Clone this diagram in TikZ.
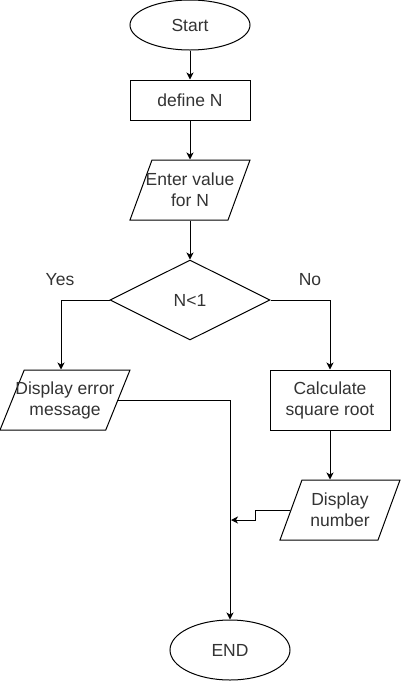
\documentclass[tikz,border=0pt]{standalone}
\usepackage{fontspec}
\setmainfont{Liberation Sans}
\usepackage{tikz}
\usetikzlibrary{arrows.meta, positioning, shapes.geometric}

\newcommand{\oneline}[1]{\makebox[0pt]{#1}}

\begin{document}
\begin{tikzpicture}[x=1pt, y=-1pt, >={Stealth[length=7pt, width=7pt, inset=2pt]}, line width=1pt, font=\fontsize{17.5}{21}\selectfont]
		\tikzstyle{term} = [draw=black, ellipse, minimum width=120pt, inner sep=0pt, text=black!80]
		\tikzstyle{proc} = [draw=black, rectangle, minimum width=120pt, inner sep=0pt, align=center, text=black!80]
		\tikzstyle{io} = [draw=black, trapezium, trapezium left angle=57, trapezium right angle=123, trapezium stretches body=true, minimum height=60pt, inner sep=0pt, align=center, text=black!80]
		\tikzstyle{decide} = [draw=black, diamond, minimum width=160pt, minimum height=80pt, inner sep=0pt, text=black!80]
		\tikzstyle{invis} = [draw=none, text=black!80]
		\tikzstyle{arrow} = [->]
		
		\useasboundingbox (0, 0) rectangle (401, 681);
		
		\node[term, minimum height=50pt] 	at (190, 25)	(start) 	{Start};
		\node[proc, minimum height=40pt] 	at (190, 100)	(defN) 	{define N};
		\node[io, minimum width=120pt] 	at (190, 190)	(enter) 	{\oneline{Enter value}\\\oneline{for N}};
		\node[decide] 	at (190, 300)	(cond) 	{N<1};
		\node[io, minimum width=130pt] 	at (65, 400)	(err) 	{\oneline{Display error}\\\oneline{message}};
		\node[proc, minimum height=60pt] 	at (330, 400)	(calc) 	{Calculate\\square root};
		\node[io, minimum width=120pt] 	at (340, 510)	(disp) 	{\oneline{Display}\\\oneline{number}};
		\node[term, minimum height=60pt] 	at (230, 650)	(stop) 	{END};
		
		\node[invis] 	at (60, 280)	(yes) 	{Yes};
		\node[invis] 	at (310, 280)	(no) 	{No};
		
		\coordinate (bend) at (255, 520);
		\coordinate (join) at (231, 520);
		
		\draw[arrow] (start) -- (defN);
		\draw[arrow] (defN) -- (enter);
		\draw[arrow] (enter) -- (cond);
		\draw[arrow] (cond.west) -| ([xshift=-4pt]err.north);
		\draw[arrow] (cond.east) -| (calc.north);
		\draw[arrow] (calc.south) -- (calc.south |- disp.north);
		\draw[arrow] (err.east) -| (stop.north);
		\draw[arrow] (disp.west) -| (bend) -- (join);
	\end{tikzpicture}
\end{document}
